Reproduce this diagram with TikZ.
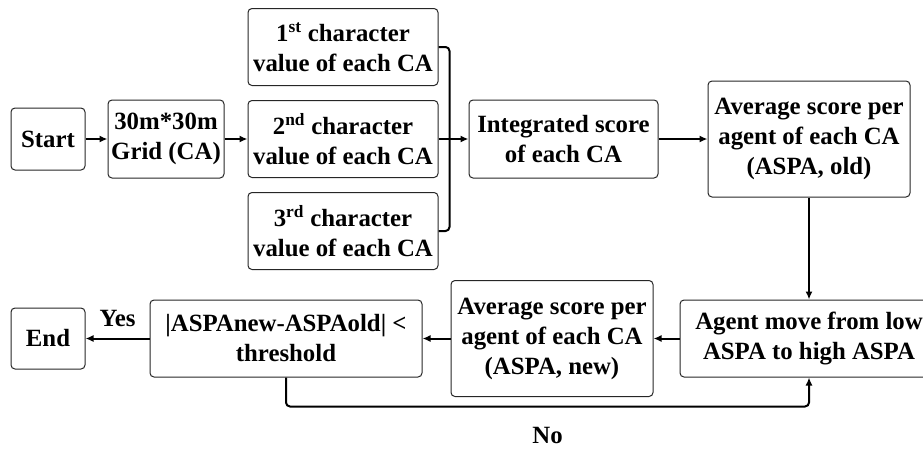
\documentclass[tikz,border=0pt]{standalone}
\usepackage{fontspec}
\setmainfont{Liberation Serif}
\usetikzlibrary{positioning,arrows.meta,calc}
\tikzset{
  >={Latex[length=8pt,width=7pt]},
  stepbox/.style={draw=black!85,rounded corners=4pt,line width=1pt,align=center,
    inner sep=2pt,font=\bfseries\fontsize{24.8pt}{30pt}\selectfont},
  flow/.style={->,line width=2pt},
  flowlbl/.style={font=\bfseries\fontsize{24.8pt}{30pt}\selectfont,inner sep=0pt},
}

\begin{document}
\begin{tikzpicture}[x=1pt,y=1pt]
  \useasboundingbox (0,0) rectangle (923,-450);
  \node[stepbox,minimum width=74pt,minimum height=62pt] (start) at (48,-139) {Start};
  \node[stepbox,minimum width=116pt,minimum height=78pt,right=22pt of start] (grid) {30m*30m\\Grid (CA)};
  \node[stepbox,minimum width=190pt,minimum height=77pt,right=23pt of grid] (chr2) {2\textsuperscript{nd} character\\value of each CA};
  \node[stepbox,minimum width=190pt,minimum height=77pt,above=14pt of chr2] (chr1) {1\textsuperscript{st} character\\value of each CA};
  \node[stepbox,minimum width=190pt,minimum height=77pt,below=14pt of chr2] (chr3) {3\textsuperscript{rd} character\\value of each CA};
  \node[stepbox,minimum width=189pt,minimum height=78pt,right=30pt of chr2] (integ) {Integrated score\\of each CA};
  \node[stepbox,minimum width=202pt,minimum height=116pt,right=49pt of integ] (aspaold) {Average score per\\agent of each CA\\(ASPA, old)};
  \node[stepbox,minimum width=258pt,minimum height=77pt,below=102pt of aspaold] (move) {Agent move from low\\ASPA to high ASPA};
  \node[stepbox,minimum width=202pt,minimum height=116pt,left=26pt of move] (aspanew) {Average score per\\agent of each CA\\(ASPA, new)};
  \node[stepbox,minimum width=272pt,minimum height=77pt,left=28pt of aspanew] (thr) {|ASPAnew-ASPAold| <\\threshold};
  \node[stepbox,minimum width=74pt,minimum height=61pt,left=64pt of thr] (end) {End};
  \coordinate[right=11pt of chr2] (jn);

  \draw[flow] (start) -- (grid);
  \draw[flow] (grid) -- (chr2);
  \draw[line width=2pt,rounded corners=4pt] (chr1.east) -| (jn) |- (chr3.east);
  \draw[flow] (chr2) -- (integ);
  \draw[flow] (integ) -- (aspaold);
  \draw[flow] (aspaold) -- (move);
  \draw[flow] (move) -- (aspanew);
  \draw[flow] (aspanew) -- (thr);
  \draw[flow] (thr) -- node[flowlbl,above=11pt]{Yes} (end);
  \draw[flow,rounded corners=4pt] (thr.south) -- ++(0,-29) -| node[flowlbl,pos=0.25,below=20pt]{No} (move.south);
\end{tikzpicture}
\end{document}
